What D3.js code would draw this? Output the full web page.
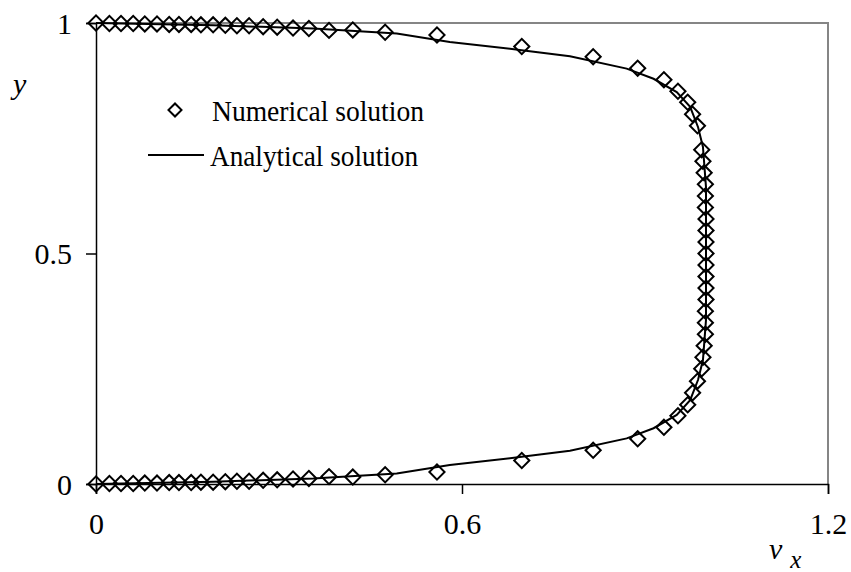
<!DOCTYPE html>
<html>
<head>
<meta charset="utf-8">
<script src="https://cdn.jsdelivr.net/npm/d3@7"></script>
<style>
  body { margin: 0; background: #fff; }
</style>
</head>
<body>
<svg id="chart"></svg>
<script>
// numerical solution (v_x, y)
const numVx = [
  0.000, 0.022, 0.041, 0.061, 0.080, 0.100, 0.120, 0.136, 0.156, 0.172, 0.192,
  0.212, 0.231, 0.251, 0.274, 0.297, 0.323, 0.349, 0.382, 0.421, 0.474, 0.559,
  0.698, 0.815, 0.888, 0.931, 0.954, 0.970, 0.978, 0.986, 0.993,
  0.995, 0.997, 0.999, 0.999, 0.999, 1.000, 1.000, 1.000, 1.000, 1.000,
  1.000, 1.000, 1.000, 0.999, 0.999, 0.999, 0.997, 0.995,
  0.993, 0.986, 0.978, 0.970, 0.954, 0.931, 0.888, 0.815, 0.698,
  0.559, 0.474, 0.421, 0.382, 0.349, 0.323, 0.297, 0.274, 0.251, 0.231, 0.212,
  0.192, 0.172, 0.156, 0.136, 0.120, 0.100, 0.080, 0.061, 0.041, 0.022, 0.000
];
const numY = [
  0.000, 0.001, 0.001, 0.001, 0.002, 0.002, 0.003, 0.003, 0.003, 0.004, 0.004,
  0.005, 0.006, 0.006, 0.008, 0.009, 0.011, 0.012, 0.016, 0.015, 0.020, 0.026,
  0.051, 0.073, 0.098, 0.123, 0.148, 0.172, 0.198, 0.223, 0.250,
  0.275, 0.300, 0.325, 0.350, 0.375, 0.400, 0.425, 0.450, 0.475, 0.500,
  0.525, 0.550, 0.575, 0.600, 0.625, 0.650, 0.675, 0.700,
  0.725, 0.777, 0.802, 0.828, 0.852, 0.877, 0.902, 0.927, 0.949,
  0.974, 0.980, 0.985, 0.984, 0.988, 0.989, 0.991, 0.992, 0.994, 0.994, 0.995,
  0.996, 0.996, 0.997, 0.997, 0.997, 0.998, 0.998, 0.999, 0.999, 0.999, 1.000
];
// analytical solution, polyline vertices
const anaVx = [0.000, 0.192, 0.356, 0.493, 0.580, 0.698, 0.777, 0.870, 0.914, 0.952, 0.974, 0.987, 0.995, 1.000,
  1.000, 0.995, 0.987, 0.974, 0.952, 0.914, 0.870, 0.777, 0.698, 0.580, 0.493, 0.356, 0.192, 0.000];
const anaY = [0.000, 0.005, 0.012, 0.023, 0.041, 0.059, 0.072, 0.099, 0.121, 0.150, 0.182, 0.226, 0.269, 0.356,
  0.644, 0.731, 0.774, 0.818, 0.850, 0.879, 0.901, 0.928, 0.941, 0.959, 0.977, 0.988, 0.995, 1.000];

const xTicks = [0, 0.6, 1.2];
const yTicks = [0, 0.5, 1];
const xTickLabels = ['0', '0.6', '1.2'];
const yTickLabels = ['0', '0.5', '1'];

const W = 851, H = 572;
const margin = { top: 23, right: 23, bottom: 88, left: 96 };
const serif = '"Liberation Serif", "Times New Roman", serif';
const fs = 30;

const svg = d3.select('#chart').attr('width', W).attr('height', H)
  .style('font-family', serif);

const x = d3.scaleLinear().domain([0, 1.2]).range([margin.left, W - margin.right]);
const y = d3.scaleLinear().domain([0, 1]).range([H - margin.bottom, margin.top]);

// gray frame on top and right
svg.append('path')
  .attr('d', `M${x(0)},${y(1)}H${x(1.2)}V${y(0)}`)
  .attr('fill', 'none')
  .attr('stroke', '#858585')
  .attr('stroke-width', 2);

// axes
const xAxis = svg.append('g')
  .attr('transform', `translate(0,${y(0)})`)
  .call(d3.axisBottom(x).tickValues(xTicks).tickSize(10).tickFormat((d, i) => xTickLabels[i]));
const yAxis = svg.append('g')
  .attr('transform', `translate(${x(0)},0)`)
  .call(d3.axisLeft(y).tickValues(yTicks).tickSize(10).tickFormat((d, i) => yTickLabels[i]));

[xAxis, yAxis].forEach(a => {
  a.attr('font-family', null).attr('font-size', null);
  a.select('.domain').attr('stroke', '#000').attr('stroke-width', 1.5);
  a.selectAll('.tick line').attr('stroke', '#000').attr('stroke-width', 1.5);
  a.selectAll('text').style('font-family', serif).style('font-size', fs + 'px').attr('fill', '#000');
});
xAxis.selectAll('text').attr('y', 30).attr('dy', '0.67em');
yAxis.selectAll('text').attr('x', -24).attr('dy', '0.34em');

// axis titles
svg.append('text')
  .attr('x', 13).attr('y', 94)
  .style('font-size', fs + 'px').attr('font-style', 'italic')
  .text('y');
const vx = svg.append('text')
  .attr('x', 769).attr('y', 559)
  .style('font-size', fs + 'px').attr('font-style', 'italic');
vx.append('tspan').text('v');
vx.append('tspan').attr('dx', 8).attr('dy', 9).style('font-size', '25px').text('x');

// analytical line
const anaData = anaVx.map((v, i) => ({ vx: v, y: anaY[i] }));
const line = d3.line().x(d => x(d.vx)).y(d => y(d.y));
svg.append('path')
  .datum(anaData)
  .attr('fill', 'none')
  .attr('stroke', '#000')
  .attr('stroke-width', 2)
  .attr('d', line);

// numerical markers
const diamond = d3.symbol(d3.symbolSquare, 115);
const numData = numVx.map((v, i) => ({ vx: v, y: numY[i] }));
svg.append('g')
  .selectAll('path')
  .data(numData)
  .join('path')
  .attr('d', diamond)
  .attr('transform', d => `translate(${x(d.vx)},${y(d.y)}) rotate(45)`)
  .attr('fill', 'none')
  .attr('stroke', '#000')
  .attr('stroke-width', 2);

// legend
const legend = svg.append('g');
legend.append('path')
  .attr('d', d3.symbol(d3.symbolSquare, 85))
  .attr('transform', 'translate(175,110) rotate(45)')
  .attr('fill', 'none')
  .attr('stroke', '#000')
  .attr('stroke-width', 2);
legend.append('text')
  .attr('x', 212).attr('y', 110).attr('dy', '0.35em')
  .style('font-size', fs + 'px')
  .attr('textLength', 212).attr('lengthAdjust', 'spacingAndGlyphs')
  .text('Numerical solution');
legend.append('line')
  .attr('x1', 148).attr('x2', 204).attr('y1', 155).attr('y2', 155)
  .attr('stroke', '#000').attr('stroke-width', 2);
legend.append('text')
  .attr('x', 210).attr('y', 155).attr('dy', '0.35em')
  .style('font-size', fs + 'px')
  .attr('textLength', 208).attr('lengthAdjust', 'spacingAndGlyphs')
  .text('Analytical solution');
</script>
</body>
</html>
